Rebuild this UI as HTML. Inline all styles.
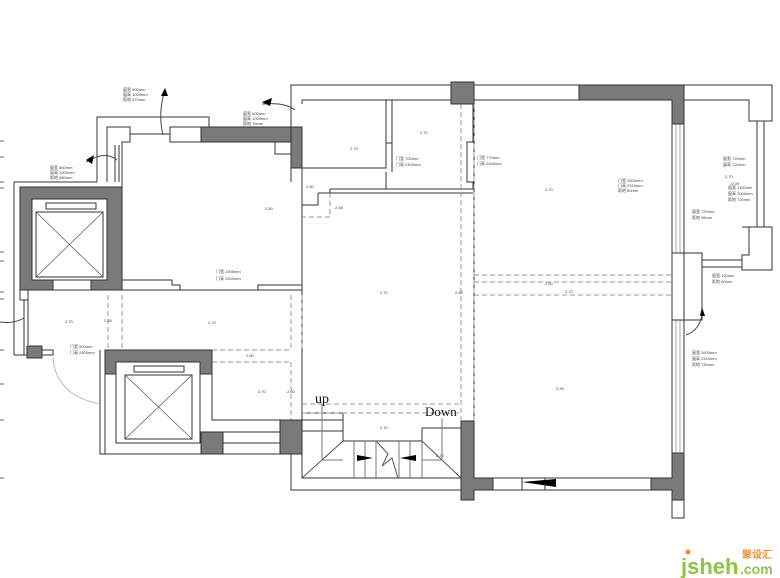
<!DOCTYPE html>
<html><head><meta charset="utf-8"><style>
html,body{margin:0;padding:0;background:#fff}
svg{display:block}
</style></head><body>
<svg width="780" height="578" viewBox="0 0 780 578" xmlns="http://www.w3.org/2000/svg" font-family="Liberation Sans, Noto Sans CJK SC, sans-serif">
<g fill="none" stroke="#333" stroke-width="1">
<path d="M291 104 V85 H772 V121 H749 V100 H684"/>
<path d="M302 104 V100 H451"/>
<path d="M474 100 H579"/>
<path d="M97 182 V117 H209 V127"/>
<path d="M107 182 V127 H130 V142 H122 V290"/>
<rect x="170" y="127" width="31" height="15"/>
<rect x="275" y="142" width="16" height="12"/>
<path d="M14 182 H97 M14 182 V355"/>
<path d="M122 280 H172 V285 H180 V290 H258 V285 H302"/>
<path d="M122 290 H180 M258 290 H302"/>
<path d="M130 127 V142 M170 127 V142 M130 134 H170"/>
<path d="M115 145 V182 M119 145 V182"/>
<path d="M20 290 H28 V300 H20 Z"/>
<path d="M24 300 V355 M28 300 V345"/>
<path d="M14 355 H53 V350 H42 V346 H28"/>
<path d="M100 350 V454 H280 M105 350 V454"/>
<path d="M212 374 V420 H280 M223 432 H280 M223 443 H280"/>
<path d="M53 357 Q55 395 100 404" stroke="#bbb"/>
<path d="M291 104 V182 M302 168 V290 M302 195 V420"/>
<path d="M302 168 H386 V100 H392 V143 H386"/>
<path d="M392 143 V172 M386 172 V189"/>
<path d="M330 189 H473 V182 H467 V142 H473 V100"/>
<path d="M330 189 V193 H473 M318 193 V205 H302 M318 193 H330"/>
<path d="M474 104 V420 M672 124 V453 M684 124 V253"/>
<path d="M676 124 V253 M680 124 V253" stroke="#aaa"/>
<path d="M672 320 V453 M684 320 V453"/>
<path d="M676 320 V453 M680 320 V453" stroke="#aaa"/>
<rect x="672" y="253" width="30" height="67"/>
<path d="M684 253 V320"/>
<path d="M702 260 H742 M702 267 H742"/>
<path d="M742 227 H772 V270 H742 V255 H749 V227"/>
<path d="M757 121 V227 M764 121 V227"/>
<path d="M474 478 H672 M474 490 H672"/>
<rect x="672" y="500" width="12" height="18"/>
<path d="M302 420 V478 H461 M291 454 V490 H461"/>
<path d="M302 413 H343 V441 M302 420 H343 M302 431 H343"/>
<path d="M343 441 H422 M422 441 V428 H461"/>
<path d="M302 478 L343 441 M422 441 L461 478" stroke="#555"/>
<path d="M354 441 V478 M365 441 V478 M376 441 V478 M399 441 V478 M410 441 V478 M422 441 V478" stroke="#777"/>
<path d="M322 404 V460 H343 M442 418 V460 H422" stroke="#777"/>
<path d="M377 442 L388 454 L382 466 L392 458 L398 478" stroke="#555"/>
<path d="M522 478 V490 M545 478 V490"/>
</g>
<g fill="none" stroke="#999" stroke-width="1" stroke-dasharray="5,3">
<path d="M461 104 V420 M474 104 V420"/>
<path d="M474 275 H672 M474 282 H672 M474 295 H672"/>
<path d="M108 295 V350 M122 295 V350 M291 295 V350 M302 295 V350"/>
<path d="M212 350 H291 M212 362 H291 M291 362 V420"/>
<path d="M330 193 V217 H302 M302 404 H461 M302 413 H461"/>
</g>
<g fill="#7a7a7a" stroke="#333" stroke-width="1" fill-rule="evenodd">
<rect x="451" y="82" width="23" height="22"/>
<path d="M579 85 H684 V124 H672 V100 H579 Z"/>
<path d="M201 127 H302 V168 H291 V142 H201 Z"/>
<path d="M20 187 H122 V290 H91 V280 H107 V199 H32 V280 H53 V290 H20 Z"/>
<path d="M105 350 H212 V374 H200 V362 H116 V374 H105 Z"/>
<rect x="201" y="432" width="22" height="22"/>
<rect x="280" y="420" width="22" height="34"/>
<path d="M461 421 H474 V478 H493 V490 H474 V500 H461 Z"/>
<path d="M651 478 H672 V453 H684 V500 H672 V490 H651 Z"/>
<rect x="27" y="346" width="15" height="12"/>
<rect x="291" y="127" width="11" height="41"/>
</g>
<g fill="none" stroke="#333" stroke-width="1">
<rect x="32" y="199" width="75" height="81"/>
<rect x="46" y="203" width="50" height="6"/>
<rect x="36" y="212" width="67" height="65"/>
<path d="M36 212 L103 277 M103 212 L36 277" stroke="#555" stroke-width=".7"/>
<path d="M53 280 H91 M53 290 H91"/>
<rect x="116" y="362" width="84" height="81"/>
<rect x="134" y="366" width="50" height="6"/>
<rect x="125" y="375" width="67" height="64"/>
<path d="M125 375 L192 439 M192 375 L125 439" stroke="#555" stroke-width=".7"/>
</g>
<path d="M522 482 L556 479 V487 Z" fill="#000"/>
<path d="M357 455 L373 458 L357 461 Z M400 458 L416 455 V461 Z" fill="#000"/>
<g fill="none" stroke="#444" stroke-width="1">
<path d="M164 93 Q158 115 163 135"/>
<path d="M262 104 Q285 102 295 110"/>
<path d="M86 162 Q105 150 117 160"/>
<path d="M702 314 Q700 330 686 335"/>
<path d="M0 322 Q14 324 24 318"/>
</g>
<g fill="#000"><path d="M161 96 l4 -8 l3 8z"/><path d="M262 102 l10 -4 l-2 8z"/><path d="M86 160 l8 -5 l-2 9z"/><path d="M700 316 l2 -9 l3 9z"/></g>
<g font-size="4" fill="#444">
<text x="123" y="91">窗宽 900mm</text><text x="123" y="96">窗高 1000mm</text><text x="123" y="101">距地 670mm</text>
<text x="243" y="115">窗宽 600mm</text><text x="243" y="120">窗高 1000mm</text><text x="243" y="125">距地 75mm</text>
<text x="50" y="169">窗宽 850mm</text><text x="50" y="174">窗高 1000mm</text><text x="50" y="179">距地 680mm</text>
<text x="216" y="273">门宽 1505mm</text><text x="216" y="280">门高 2400mm</text>
<text x="396" y="160">门宽 700mm</text><text x="396" y="166">门高 2400mm</text>
<text x="477" y="159">门宽 770mm</text><text x="477" y="165">门高 2046mm</text>
<text x="618" y="182">门宽 2500mm</text><text x="618" y="187">门高 2315mm</text><text x="618" y="192">距地 80mm</text>
<text x="70" y="348">门宽 900mm</text><text x="70" y="354">门高 2400mm</text>
<text x="723" y="160">窗宽 720mm</text><text x="723" y="166">窗高 720mm</text>
<text x="728" y="189">窗宽 1100mm</text><text x="728" y="195">窗高 2000mm</text><text x="728" y="201">距地 720mm</text>
<text x="692" y="213">窗宽 720mm</text><text x="692" y="219">距地 95mm</text>
<text x="712" y="277">窗宽 120mm</text><text x="712" y="283">距地 60mm</text>
<text x="692" y="354">窗宽 2600mm</text><text x="692" y="360">窗高 2310mm</text><text x="692" y="366">距地 730mm</text>
<text x="265" y="210">2.80</text><text x="350" y="150">2.70</text><text x="420" y="134">2.70</text>
<text x="545" y="191">2.70</text><text x="725" y="178">2.70</text><text x="380" y="294">2.70</text>
<text x="455" y="294">2.80</text><text x="545" y="285">2.50</text><text x="565" y="293">2.72</text>
<text x="556" y="390">2.90</text><text x="65" y="323">2.70</text><text x="104" y="322">2.65</text>
<text x="208" y="324">2.70</text><text x="246" y="357">2.80</text><text x="258" y="393">2.70</text>
<text x="287" y="393">2.60</text><text x="380" y="429">2.70</text><text x="436" y="457">2.70</text>
<text x="306" y="188">2.60</text><text x="335" y="209">2.65</text><text x="730" y="185">-0.05</text>
</g>
<text x="315" y="403" style="font-family:'Liberation Serif',serif" font-size="14" fill="#111">up</text>
<text x="425" y="416" style="font-family:'Liberation Serif',serif" font-size="13" fill="#111">Down</text>
<g stroke="#666"><path d="M0 141 H4 M0 157 H4 M0 182 H4 M0 188 H4 M0 252 H4 M0 261 H4 M0 292 H4 M0 299 H4 M0 350 H4 M0 384 H4 M0 420 H4 M0 478 H4"/></g>
<text x="681" y="574" font-size="22" font-weight="bold" fill="#8cc63e">jsheh</text>
<text x="740" y="574" font-size="14" font-weight="bold" fill="#8cc63e">.com</text>
<text x="742" y="558" font-size="10" font-weight="bold" fill="#f08a24">聚设汇</text>
<circle cx="688" cy="552" r="2.5" fill="#f08a24"/>
</svg>
</body></html>
